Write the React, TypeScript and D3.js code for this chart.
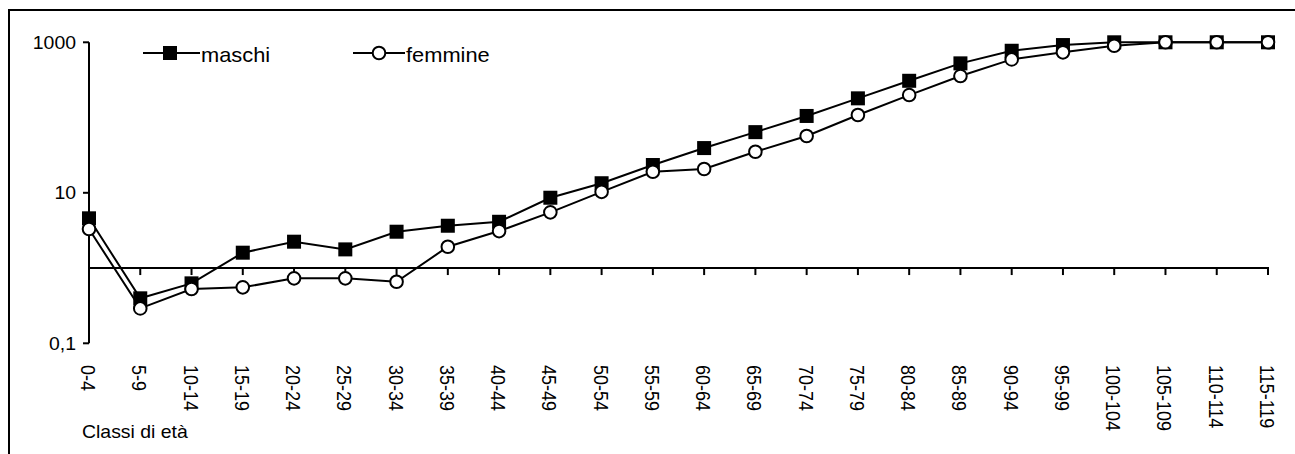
import React from "react";
import * as d3 from "d3";

const categories = ["0-4","5-9","10-14","15-19","20-24","25-29","30-34","35-39","40-44","45-49","50-54","55-59","60-64","65-69","70-74","75-79","80-84","85-89","90-94","95-99","100-104","105-109","110-114","115-119"];
const maschi = [4.58,0.396,0.626,1.6,2.24,1.77,3.04,3.65,4.12,8.6,13.4,23.4,39.3,64,105,180,308,525,772,919,1000,1000,1000,1000];
const femmine = [3.3,0.291,0.526,0.554,0.73,0.73,0.658,1.92,3.1,5.5,10.3,19.0,20.7,35.1,56.8,108,199,356,593,735,900,1000,1000,1000];
const yTicks = [0.1, 10, 1000];
const yTickLabels = ["0,1", "10", "1000"];
const seriesNames = ["maschi", "femmine"];
const xTitle = "Classi di età";

const W = 1295, H = 454;
const FONT = "Arial, 'Liberation Sans', sans-serif";

export default function App() {
  const x = d3.scalePoint<string>().domain(categories).range([89, 1268]);
  const y = d3.scaleLog().domain([0.1, 1000]).range([343.3, 42.3]);
  const line = d3.line<number>().x((_, i) => x(categories[i])!).y((v) => y(v));
  const y1 = y(1);
  const sq = 14, r = 6.3;
  const fs = 18, sx = 1.08;

  return (
    <svg width={W} height={H} style={{ position: "absolute", left: 0, top: 0, background: "#fff" }}>
      <rect x={0} y={0} width={W} height={H} fill="#fff" />
      <rect x={9} y={10} width={W + 20} height={H + 20} fill="none" stroke="#000" strokeWidth={2} />
      {/* y axis */}
      <line x1={89} x2={89} y1={y(1000)} y2={y(0.1)} stroke="#000" strokeWidth={2} />
      {yTicks.map((t, i) => (
        <g key={t}>
          <line x1={83} x2={89} y1={y(t)} y2={y(t)} stroke="#000" strokeWidth={2} />
          <text transform={`translate(76,${y(t)}) scale(${sx},1)`} dy="0.35em" textAnchor="end" fontFamily={FONT} fontSize={fs}>{yTickLabels[i]}</text>
        </g>
      ))}
      {/* x axis at y=1 */}
      <line x1={88} x2={1269} y1={y1} y2={y1} stroke="#000" strokeWidth={2} />
      {categories.map((c) => (
        <g key={c}>
          <line x1={x(c)} x2={x(c)} y1={y1} y2={y1 + 7} stroke="#000" strokeWidth={2} />
          <text transform={`translate(${x(c)! - 1},365) scale(${sx},1) rotate(90)`} dy="0.36em" textAnchor="start" fontFamily={FONT} fontSize={fs}>{c}</text>
        </g>
      ))}
      <text transform={`translate(82,438) scale(${sx},1)`} fontFamily={FONT} fontSize={fs}>{xTitle}</text>
      {/* maschi */}
      <path d={line(maschi)!} fill="none" stroke="#000" strokeWidth={2} />
      {maschi.map((v, i) => (
        <rect key={i} x={x(categories[i])! - sq / 2} y={y(v) - sq / 2} width={sq} height={sq} fill="#000" />
      ))}
      {/* femmine */}
      <path d={line(femmine)!} fill="none" stroke="#000" strokeWidth={2} />
      {femmine.map((v, i) => (
        <circle key={i} cx={x(categories[i])} cy={y(v)} r={r} fill="#fff" stroke="#000" strokeWidth={2} />
      ))}
      {/* legend */}
      <g>
        <line x1={143} x2={200} y1={53} y2={53} stroke="#000" strokeWidth={2} />
        <rect x={170 - sq / 2} y={53 - sq / 2} width={sq} height={sq} fill="#000" />
        <text transform={`translate(201,62) scale(1.04,1)`} fontFamily={FONT} fontSize={21}>{seriesNames[0]}</text>
        <line x1={353} x2={405} y1={53} y2={53} stroke="#000" strokeWidth={2} />
        <circle cx={379} cy={53} r={r} fill="#fff" stroke="#000" strokeWidth={2} />
        <text transform={`translate(406,62) scale(1.04,1)`} fontFamily={FONT} fontSize={21}>{seriesNames[1]}</text>
      </g>
    </svg>
  );
}
